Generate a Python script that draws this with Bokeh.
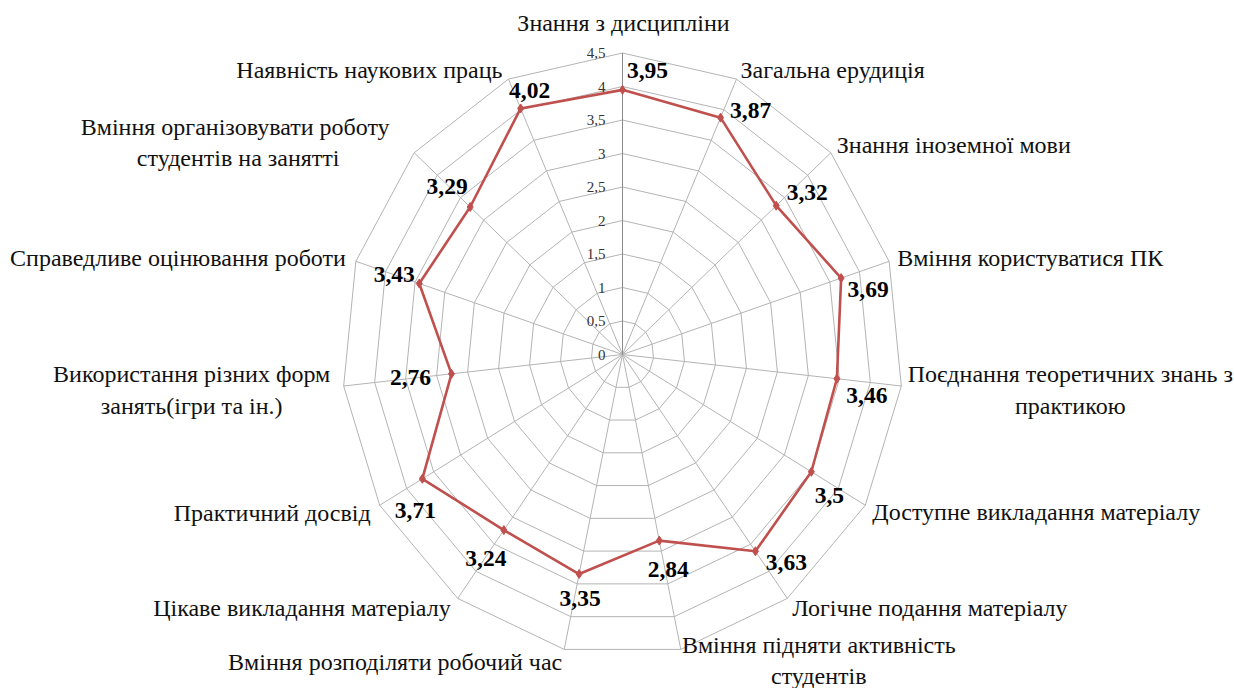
import numpy as np
from bokeh.plotting import figure
from bokeh.models import Range1d, ColumnDataSource
from bokeh.core.properties import value
from bokeh.embed import file_html
from bokeh.resources import INLINE

# ---------------- data ----------------
categories = [
    "Знання з дисципліни",
    "Загальна ерудиція",
    "Знання іноземної мови",
    "Вміння користуватися ПК",
    "Поєднання теоретичних знань з\nпрактикою",
    "Доступне викладання матеріалу",
    "Логічне подання матеріалу",
    "Вміння підняти активність\nстудентів",
    "Вміння розподіляти робочий час",
    "Цікаве викладання матеріалу",
    "Практичний досвід",
    "Використання різних форм\nзанять(ігри та ін.)",
    "Справедливе оцінювання роботи",
    "Вміння  організовувати роботу\nстудентів на занятті",
    "Наявність наукових праць",
]
scores = [3.95, 3.87, 3.32, 3.69, 3.46, 3.5, 3.63, 2.84, 3.35, 3.24, 3.71, 2.76, 3.43, 3.29, 4.02]
ticks = [0, 0.5, 1, 1.5, 2, 2.5, 3, 3.5, 4, 4.5]
tick_labels = ["0", "0,5", "1", "1,5", "2", "2,5", "3", "3,5", "4", "4,5"]

# ---------------- styles / layout ----------------
W, H = 1234, 688
CX, CY = 622, 354          # radar centre in figure pixels
SX, SY = 62.3, 67.0        # pixels per unit (x, y)
RMAX = 4.5
FONT = "Liberation Serif"

# label offsets in pixels (dx right, dy down) relative to data point
val_off = [(25, -19), (30, -7), (31, -13), (27, 11), (30, 17), (18, 24), (31, 11),
           (9, 29), (1, 24), (-18, 28), (-7, 32), (-41, 4), (-25, -9), (-23, -21), (9, -18)]
# category label offsets in pixels relative to the outer ring vertex
cat_off = [(1, -30), (4, -9), (6, -8), (8, -3), (169, 4), (7, 7), (5, 10),
           (138, 11), (-2, 13), (-7, 10), (-9, 8), (-152, 4), (-10, -3), (-176, -10), (-6, -9)]
cat_align = ["center", "left", "left", "left", "center", "left", "left",
             "center", "right", "right", "right", "center", "right", "center", "right"]

n = len(categories)
ang = np.arange(n) * 2 * np.pi / n
sa, ca = np.sin(ang), np.cos(ang)

p = figure(width=W, height=H, output_backend="svg", toolbar_location=None,
           x_range=Range1d(-CX / SX, (W - CX) / SX),
           y_range=Range1d(-(H - CY) / SY, CY / SY),
           x_axis_type=None, y_axis_type=None,
           min_border=0, min_border_left=0, min_border_right=0,
           min_border_top=0, min_border_bottom=0)
p.outline_line_color = None
p.grid.visible = False
p.background_fill_color = "white"

# rings
ring_xs, ring_ys = [], []
for t in ticks[1:]:
    ring_xs.append(list(t * np.append(sa, sa[0])))
    ring_ys.append(list(t * np.append(ca, ca[0])))
p.multi_line(ring_xs, ring_ys, line_color="#b4b4b4", line_width=1)

# spokes
sp_xs = [[0, RMAX * s] for s in sa]
sp_ys = [[0, RMAX * c] for c in ca]
p.multi_line(sp_xs, sp_ys, line_color="#b4b4b4", line_width=1)
p.line([0, 0], [0, RMAX], line_color="#8a8a8a", line_width=1)

# tick labels
p.text(x=[0] * len(ticks), y=ticks, text=tick_labels, x_offset=-17,
       text_align="right", text_baseline="middle", text_font=value(FONT),
       text_font_size="15px", text_color="#333333")

# data series
sc = np.array(scores)
dx_ = list(sc * sa) + [sc[0] * sa[0]]
dy_ = list(sc * ca) + [sc[0] * ca[0]]
p.line(dx_, dy_, line_color="#c0504d", line_width=2.6)
p.scatter(list(sc * sa), list(sc * ca), marker="diamond", size=9,
          fill_color="#c0504d", line_color="#c0504d")

# value labels
vl = ColumnDataSource(dict(
    x=[s * a + o[0] / SX for s, a, o in zip(sc, sa, val_off)],
    y=[s * c - o[1] / SY for s, c, o in zip(sc, ca, val_off)],
    t=[f"{v:g}".replace(".", ",") for v in scores],
))
p.text(x="x", y="y", text="t", source=vl, text_align="center", text_baseline="middle",
       text_font=value(FONT), text_font_size="23.5px", text_font_style="bold",
       text_color="#000000")

# category labels
cl = ColumnDataSource(dict(
    x=[RMAX * a + o[0] / SX for a, o in zip(sa, cat_off)],
    y=[RMAX * c - o[1] / SY for c, o in zip(ca, cat_off)],
    t=categories,
    al=cat_align,
))
p.text(x="x", y="y", text="t", source=cl, text_align="al", text_baseline="middle",
       text_font=value(FONT), text_font_size="24px", text_color="#111111",
       text_line_height=1.2)

open("out.html", "w").write(file_html(p, INLINE))
